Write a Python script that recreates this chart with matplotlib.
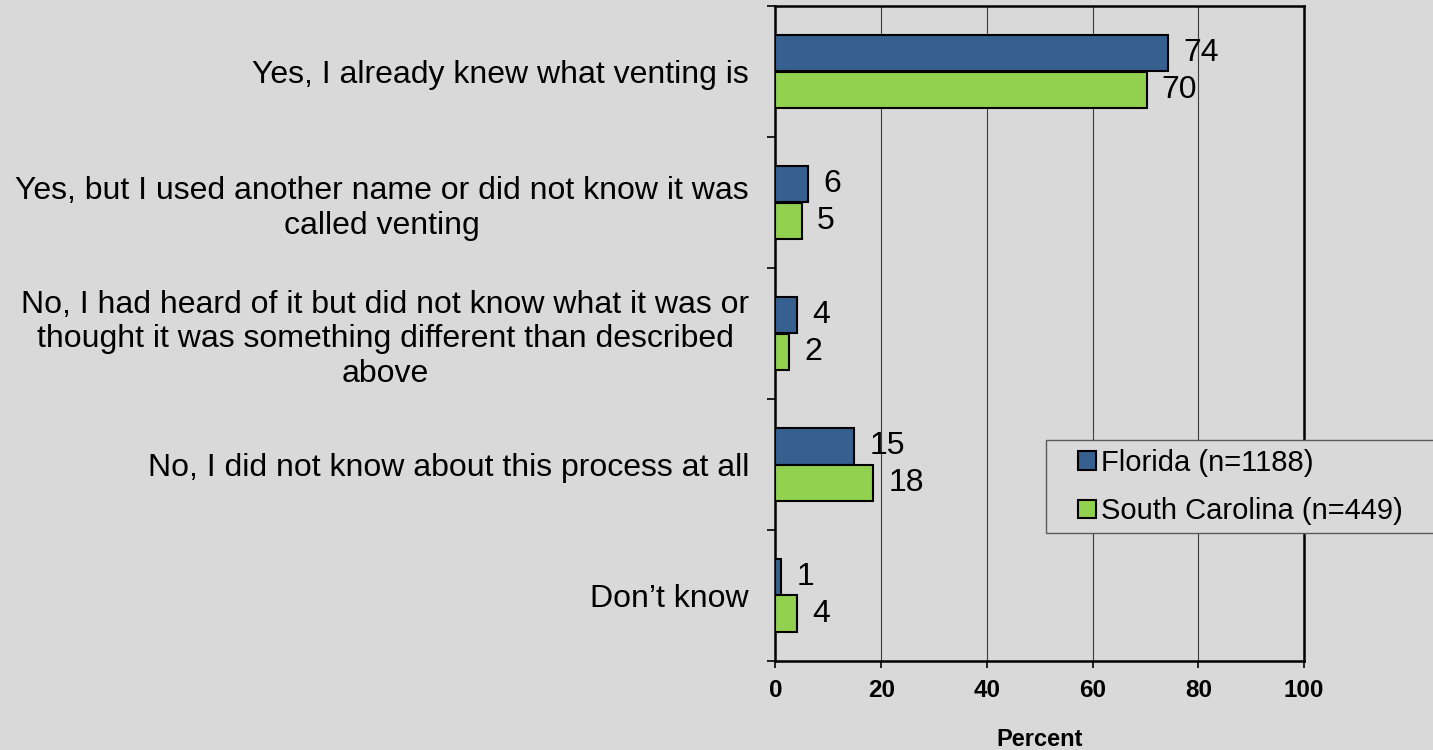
import matplotlib.pyplot as plt
import numpy as np
from matplotlib.ticker import FixedLocator
from matplotlib.patches import Rectangle

plt.rcParams['font.family'] = ['Liberation Sans', 'DejaVu Sans']

categories = [
    "Yes, I already knew what venting is",
    "Yes, but I used another name or did not know it was\ncalled venting",
    "No, I had heard of it but did not know what it was or\nthought it was something different than described\nabove",
    "No, I did not know about this process at all",
    "Don\u2019t know",
]
florida = [74.3, 6.2, 4.0, 14.9, 1.1]
south_carolina = [70.2, 5.0, 2.5, 18.5, 4.1]
florida_labels = ["74", "6", "4", "15", "1"]
sc_labels = ["70", "5", "2", "18", "4"]
series_names = ["Florida (n=1188)", "South Carolina (n=449)"]
x_ticks = [0, 20, 40, 60, 80, 100]

bg = '#d9d9d9'
blue = '#35608f'
green = '#92d050'

fig = plt.figure(figsize=(14.33, 7.5), dpi=100, facecolor=bg)
ax = fig.add_axes([775.5 / 1433, 1 - 661 / 750, (1304 - 775.5) / 1433, (661 - 6) / 750])
ax.set_facecolor(bg)

y = np.arange(len(categories))
h = 0.28
b1 = ax.barh(y - h / 2, florida, h, color=blue, edgecolor='black', linewidth=1.5,
             label=series_names[0], zorder=3)
b2 = ax.barh(y + h / 2, south_carolina, h, color=green, edgecolor='black', linewidth=1.5,
             label=series_names[1], zorder=3)

for bars, labels in ((b1, florida_labels), (b2, sc_labels)):
    for bar, txt in zip(bars, labels):
        ax.annotate(txt, (bar.get_width(), bar.get_y() + bar.get_height() / 2),
                    xytext=(11, 0), textcoords='offset points',
                    ha='left', va='center', fontsize=23, zorder=4)

ax.set_xlim(0, 100)
ax.set_ylim(len(categories) - 0.5, -0.5)
ax.set_xticks(x_ticks)
ax.set_xticklabels([str(v) for v in x_ticks], fontsize=17.5, fontweight='bold')
ax.tick_params(axis='x', direction='out', length=5, width=1.2, pad=8)
ax.xaxis.grid(True, color='#3c3c3c', linewidth=0.8, zorder=0)

ax.set_yticks(y)
ax.set_yticklabels(categories, fontsize=23, multialignment='center')
ax.tick_params(axis='y', which='major', length=0, pad=19)
ax.yaxis.set_minor_locator(FixedLocator(np.arange(-0.5, len(categories), 1)))
ax.tick_params(axis='y', which='minor', direction='out', length=6, width=1.2)

for s in ax.spines.values():
    s.set_linewidth(1.8)
    s.set_color('black')

ax.set_xlabel("Percent", fontsize=17, fontweight='bold', labelpad=19)

# legend frame runs off the right edge of the figure, as in the original
fig.patches.append(Rectangle((1046 / 1433, 1 - 533 / 750), (1460 - 1046) / 1433, 93 / 750,
                             transform=fig.transFigure, facecolor=bg,
                             edgecolor='#5a5a5a', linewidth=1.0, zorder=4))
leg = fig.legend(loc='center left', bbox_to_anchor=(1078 / 1433, 1 - 487 / 750),
                 fontsize=21, frameon=False, handlelength=0.6, handleheight=0.6,
                 handletextpad=0.2, labelspacing=0.7, borderpad=0, borderaxespad=0)
leg.set_zorder(5)

fig.savefig('out.png', dpi=100, facecolor=bg)
